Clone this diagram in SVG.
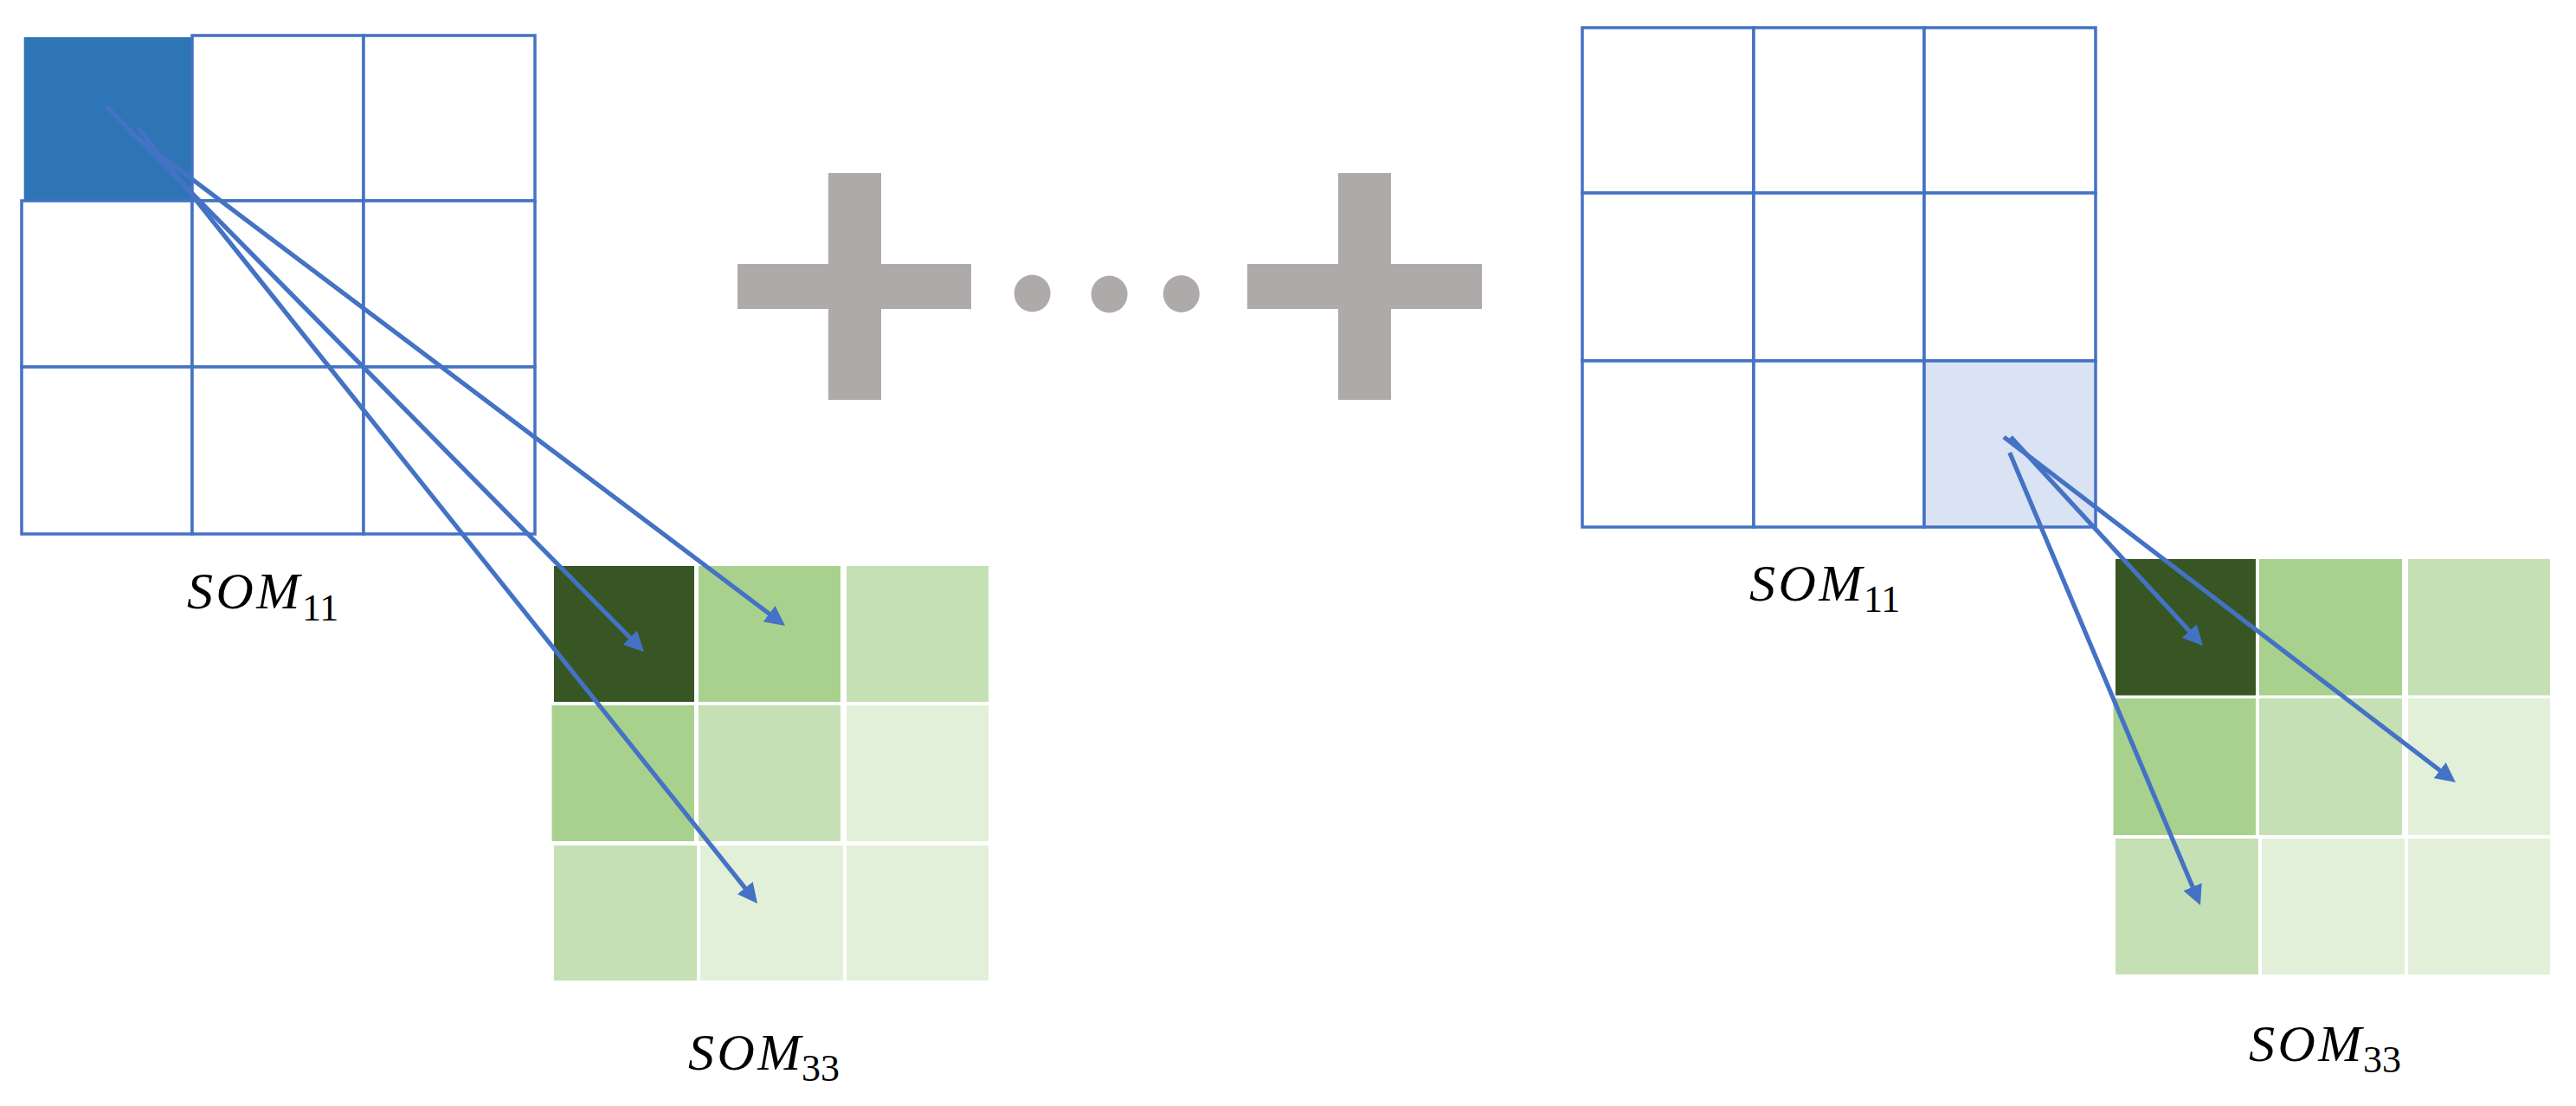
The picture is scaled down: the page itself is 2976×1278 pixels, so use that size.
<svg xmlns="http://www.w3.org/2000/svg" width="2976" height="1278" viewBox="0 0 2976 1278">
<style>
.cell{fill:#FFFFFF;stroke:#4472C4;stroke-width:3.5}
.sel{fill:#2E75B6;stroke:none}
.sel2{fill:#DAE3F3;stroke:#4472C4;stroke-width:3.5}
.g0{fill:#375623}
.g1{fill:#A9D18E}
.g2{fill:#C5E0B4}
.g3{fill:#E2F0D9}
.arr{fill:none;stroke:#4472C4;stroke-width:5.2;marker-end:url(#ah)}
.op{fill:#AEAAAA}
.lbl{font-family:"Liberation Serif","DejaVu Serif",serif;font-size:60px;font-style:italic;letter-spacing:3.5px;fill:#000000}
.sub{font-family:"Liberation Serif","DejaVu Serif",serif;font-size:44px;fill:#000000}
</style>
<defs>
<marker id="ah" markerUnits="userSpaceOnUse" markerWidth="23" markerHeight="23" viewBox="0 0 23 23" refX="8" refY="11.5" orient="auto">
<path d="M0,0 L23,11.5 L0,23 z" fill="#4472C4"/>
</marker>
</defs>
<rect width="2976" height="1278" fill="#FFFFFF"/>

<g id="som11-left">
<rect class="sel" x="27.7" y="43" width="194.3" height="189"/>
<rect class="cell" x="222" y="41" width="198" height="191"/>
<rect class="cell" x="420" y="41" width="198" height="191"/>
<rect class="cell" x="25" y="232" width="197" height="192"/>
<rect class="cell" x="222" y="232" width="198" height="192"/>
<rect class="cell" x="420" y="232" width="198" height="192"/>
<rect class="cell" x="25" y="424" width="197" height="193"/>
<rect class="cell" x="222" y="424" width="198" height="193"/>
<rect class="cell" x="420" y="424" width="198" height="193"/>
</g>

<g id="som33-left">
<rect class="g0" x="640" y="654" width="162" height="157"/>
<rect class="g1" x="807" y="654" width="164" height="157"/>
<rect class="g2" x="978" y="654" width="164" height="157"/>
<rect class="g1" x="637.5" y="815" width="164.5" height="157"/>
<rect class="g2" x="807" y="815" width="164" height="157"/>
<rect class="g3" x="978" y="815" width="164" height="157"/>
<rect class="g2" x="640" y="977" width="165" height="156"/>
<rect class="g3" x="809" y="977" width="165" height="156"/>
<rect class="g3" x="978" y="977" width="164" height="156"/>
</g>

<g id="som11-right">
<rect class="cell" x="1828" y="32" width="198" height="191"/>
<rect class="cell" x="2026" y="32" width="197" height="191"/>
<rect class="cell" x="2223" y="32" width="198" height="191"/>
<rect class="cell" x="1828" y="223" width="198" height="194"/>
<rect class="cell" x="2026" y="223" width="197" height="194"/>
<rect class="cell" x="2223" y="223" width="198" height="194"/>
<rect class="cell" x="1828" y="417" width="198" height="192"/>
<rect class="cell" x="2026" y="417" width="197" height="192"/>
<rect class="sel2" x="2223" y="417" width="198" height="192"/>
</g>

<g id="som33-right">
<rect class="g0" x="2444" y="646" width="162" height="157.5"/>
<rect class="g1" x="2610" y="646" width="165" height="157.5"/>
<rect class="g2" x="2782" y="646" width="164" height="157.5"/>
<rect class="g1" x="2441.5" y="807" width="164.5" height="158"/>
<rect class="g2" x="2610" y="807" width="165" height="158"/>
<rect class="g3" x="2782" y="807" width="164" height="158"/>
<rect class="g2" x="2444" y="969" width="165" height="157"/>
<rect class="g3" x="2613" y="969" width="165" height="157"/>
<rect class="g3" x="2782" y="969" width="164" height="157"/>
</g>

<g id="operators">
<rect class="op" x="852" y="305" width="270" height="52"/>
<rect class="op" x="957" y="200" width="61" height="262"/>
<ellipse class="op" cx="1192.6" cy="339" rx="21" ry="21.5"/>
<ellipse class="op" cx="1281.6" cy="340" rx="21" ry="21.5"/>
<ellipse class="op" cx="1364.8" cy="339.5" rx="21" ry="21.5"/>
<rect class="op" x="1441" y="305" width="271" height="52"/>
<rect class="op" x="1546" y="200" width="61" height="262"/>
</g>

<g id="labels">
<text class="lbl" x="216" y="703">SOM</text><text class="sub" x="349" y="717">11</text>
<text class="lbl" x="795" y="1236">SOM</text><text class="sub" x="926" y="1249">33</text>
<text class="lbl" x="2021" y="694">SOM</text><text class="sub" x="2153" y="707">11</text>
<text class="lbl" x="2598" y="1226">SOM</text><text class="sub" x="2730" y="1239">33</text>
</g>

<g id="connectors">
<line class="arr" x1="150" y1="153" x2="895" y2="714"/>
<line class="arr" x1="123" y1="123" x2="733.5" y2="742.5"/>
<line class="arr" x1="160" y1="148" x2="865.7" y2="1032.3"/>
<line class="arr" x1="2315" y1="505" x2="2825" y2="895"/>
<line class="arr" x1="2323" y1="505" x2="2534.8" y2="735"/>
<line class="arr" x1="2321.7" y1="523" x2="2536.2" y2="1032.2"/>
</g>
</svg>
